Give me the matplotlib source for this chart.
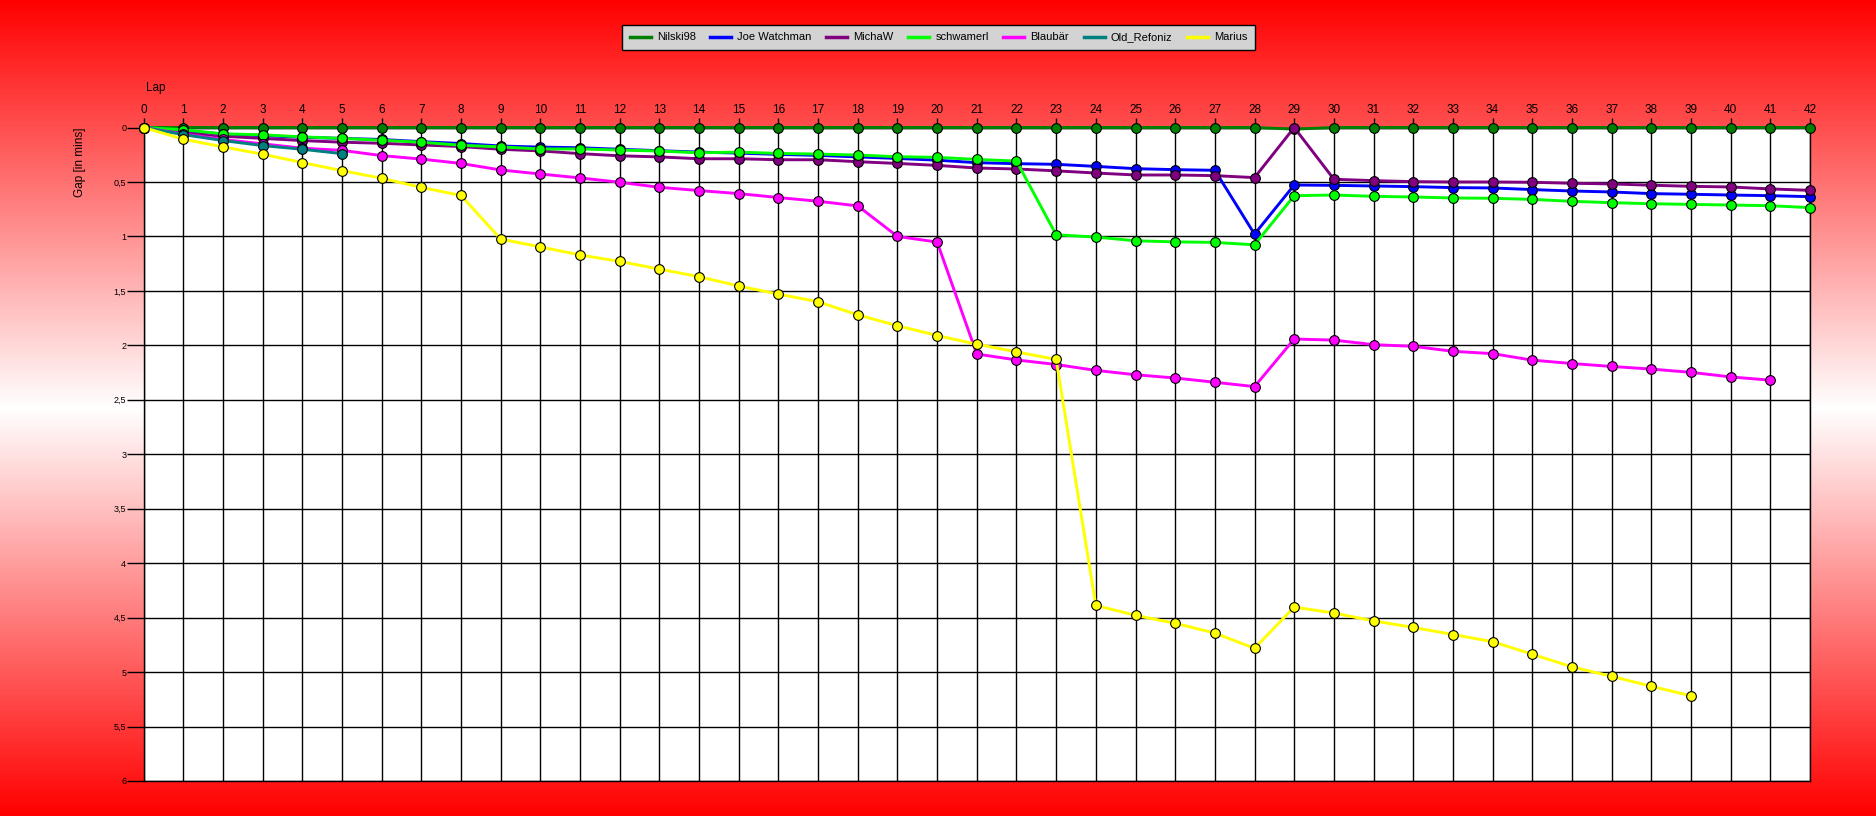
import numpy as np
import matplotlib
matplotlib.use("Agg")
import matplotlib.pyplot as plt

plt.rcParams['font.family'] = ['Liberation Sans', 'DejaVu Sans']

drivers = ["Nilski98", "Joe Watchman", "MichaW", "schwamerl", "Blaubär", "Old_Refoniz", "Marius"]
colors = ["#008000", "#0000FF", "#800080", "#00FF00", "#FF00FF", "#008080", "#FFFF00"]

nilski98 = [0, 0, 0, 0, 0, 0, 0, 0, 0, 0, 0, 0, 0, 0, 0, 0, 0, 0, 0, 0, 0, 0, 0, 0, 0, 0, 0, 0, 0,
            0.015, 0, 0, 0, 0, 0, 0, 0, 0, 0, 0, 0, 0, 0]
joe_watchman = [0, 0.03, 0.06, 0.075, 0.09, 0.10, 0.11, 0.13, 0.147, 0.17, 0.18, 0.186, 0.20, 0.213,
                0.226, 0.235, 0.247, 0.256, 0.27, 0.284, 0.30, 0.323, 0.332, 0.338, 0.357, 0.378,
                0.387, 0.393, 0.979, 0.528, 0.531, 0.537, 0.543, 0.552, 0.555, 0.57, 0.583, 0.592,
                0.607, 0.613, 0.62, 0.626, 0.635]
michaw = [0, 0.05, 0.08, 0.10, 0.12, 0.135, 0.145, 0.16, 0.175, 0.20, 0.215, 0.24, 0.26, 0.27,
          0.287, 0.287, 0.296, 0.296, 0.314, 0.33, 0.348, 0.372, 0.381, 0.398, 0.418, 0.436,
          0.436, 0.442, 0.46, 0.0, 0.475, 0.488, 0.497, 0.50, 0.50, 0.503, 0.512, 0.518, 0.53,
          0.54, 0.546, 0.564, 0.577]
schwamerl = [0, 0.021, 0.058, 0.067, 0.086, 0.10, 0.117, 0.135, 0.163, 0.178, 0.197, 0.197, 0.207,
             0.216, 0.232, 0.226, 0.238, 0.244, 0.253, 0.268, 0.274, 0.293, 0.308, 0.985, 1.006,
             1.04, 1.05, 1.055, 1.077, 0.626, 0.62, 0.632, 0.638, 0.647, 0.65, 0.66, 0.678, 0.69,
             0.70, 0.706, 0.712, 0.718, 0.736]
blaubaer = [0, 0.06, 0.11, 0.15, 0.19, 0.21, 0.258, 0.29, 0.33, 0.39, 0.427, 0.463, 0.503, 0.549,
            0.579, 0.607, 0.643, 0.677, 0.72, 1.0, 1.052, 2.08, 2.134, 2.176, 2.23, 2.27, 2.30,
            2.339, 2.379, 1.942, 1.952, 1.994, 2.009, 2.055, 2.076, 2.136, 2.167, 2.194, 2.218,
            2.248, 2.29, 2.32]
old_refoniz = [0, 0.065, 0.12, 0.166, 0.20, 0.24]
marius = [0, 0.107, 0.178, 0.245, 0.322, 0.396, 0.466, 0.55, 0.624, 1.024, 1.097, 1.17, 1.23,
          1.30, 1.37, 1.455, 1.53, 1.60, 1.72, 1.82, 1.91, 1.99, 2.06, 2.13, 4.388, 4.479,
          4.552, 4.642, 4.782, 4.403, 4.458, 4.53, 4.59, 4.655, 4.721, 4.836, 4.952, 5.039,
          5.13, 5.218]

series = [nilski98, joe_watchman, michaw, schwamerl, blaubaer, old_refoniz, marius]
lap_ticks = list(range(0, 43))
gap_ticks = [0, 0.5, 1, 1.5, 2, 2.5, 3, 3.5, 4, 4.5, 5, 5.5, 6]
gap_labels = ["0", "0,5", "1", "1,5", "2", "2,5", "3", "3,5", "4", "4,5", "5", "5,5", "6"]

W, H = 1876, 816
fig = plt.figure(figsize=(W / 100, H / 100), dpi=100)

# background gradient red - white - red
bg = fig.add_axes([0, 0, 1, 1], zorder=-10)
t = np.linspace(0, 1, 400)
w = 1 - np.abs(t - 0.5) * 2  # 0 at edges, 1 in middle
img = np.zeros((400, 2, 3))
img[..., 0] = 1.0
img[..., 1] = w[:, None]
img[..., 2] = w[:, None]
bg.imshow(img, aspect='auto', extent=[0, 1, 0, 1], interpolation='bilinear')
bg.set_axis_off()

left = 143.6 / W
right = 1810 / W
top = 1 - 127.5 / H
bottom = 1 - 781 / H
ax = fig.add_axes([left, bottom, right - left, top - bottom])
ax.set_facecolor("white")

for name, vals, c in zip(drivers, series, colors):
    laps = list(range(len(vals)))
    ax.plot(laps, vals, color=c, lw=2.1, marker='o', markersize=7, markerfacecolor=c,
            markeredgecolor='black', markeredgewidth=0.8, label=name, clip_on=False, zorder=3)

ax.set_xlim(0, 42)
ax.set_ylim(6, 0)
ax.xaxis.tick_top()
ax.set_xticks(lap_ticks)
ax.set_xticklabels([str(v) for v in lap_ticks], fontsize=8.5)
ax.set_yticks(gap_ticks)
ax.set_yticklabels(gap_labels, fontsize=6.5)
ax.tick_params(axis='x', direction='out', length=7, width=1.0, pad=1, colors='black')
ax.tick_params(axis='y', direction='out', length=12, width=1.0, pad=0.5, colors='black')
ax.grid(True, color='black', lw=1.0, zorder=1)
ax.set_axisbelow(True)
for s in ax.spines.values():
    s.set_color('black')
    s.set_linewidth(1.0)

fig.text(146 / W, 1 - 88 / H, "Lap", fontsize=8.5, ha='left', va='center')
fig.text(80 / W, 1 - 162 / H, "Gap [in mins]", fontsize=8.5, rotation=90, ha='center', va='center')

leg = fig.legend(loc='center', bbox_to_anchor=(938.5 / W, 1 - 37.5 / H), ncol=7, fontsize=8,
                 frameon=True, fancybox=False, facecolor='#D3D3D3', edgecolor='black',
                 framealpha=1, handlelength=1.9, handletextpad=0.55, columnspacing=1.3,
                 borderpad=0.7, markerscale=0)
for h in leg.get_lines():
    h.set_marker('')
    h.set_linewidth(2.5)
leg.get_frame().set_linewidth(1.0)

fig.savefig("out.png", dpi=100)
